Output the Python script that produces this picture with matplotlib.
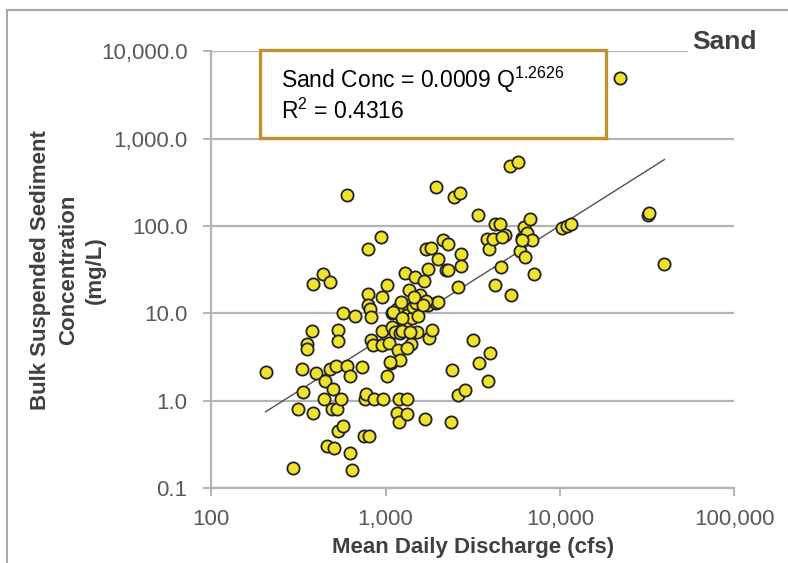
import matplotlib
matplotlib.use("Agg")
import matplotlib.pyplot as plt
from matplotlib.lines import Line2D
from matplotlib.patches import Rectangle
from matplotlib.ticker import FixedLocator, NullLocator

# mean daily discharge (cfs) and bulk sand concentration (mg/L)
discharge = [205, 295, 313, 330, 334, 353, 353, 380, 381, 385, 397, 439, 445, 451, 463,
             482, 482, 492, 502, 508, 518, 524, 532, 532, 535, 554, 569, 569, 604, 604,
             629, 629, 641, 671, 732, 747, 762, 768, 793, 793, 793, 803, 809, 820, 820,
             848, 859, 935, 955, 955, 955, 968, 1014, 1021, 1041, 1076, 1090, 1090, 1135, 1157,
             1164, 1180, 1188, 1196, 1212, 1220, 1212, 1294, 1321, 1330, 1294, 1330, 1365, 1422, 1435,
             1480, 1490, 1520, 1571, 1393, 1657, 1679, 1711, 1746, 1750, 1782, 1830, 1854, 1942, 1953,
             2010, 2010, 2144, 2232, 2293, 2369, 2417, 2466, 2584, 2617, 2671, 2706, 2706, 2853, 3153,
             3368, 3414, 3796, 3846, 3899, 3975, 4110, 4249, 4249, 4605, 4543, 4856, 5187, 5250, 5725,
             5919, 6043, 6205, 6330, 6460, 6763, 6900, 7080, 10270, 10970, 11500, 22000, 32100, 32300, 39700,
             1107, 1543, 1250, 1460, 1700, 1640, 2280, 1250, 1380, 4625, 6030, 1060, 1330]
sand_conc = [2.14, 0.171, 0.815, 2.33, 1.26, 4.47, 3.9, 6.3, 0.73, 21.7, 2.06, 28.5, 1.05, 1.70, 0.30,
             22.7, 2.33, 0.81, 1.35, 0.286, 2.47, 0.815, 6.46, 4.82, 0.454, 1.05, 0.508, 9.98, 226, 2.51,
             0.252, 1.93, 0.163, 9.34, 2.42, 0.394, 1.06, 1.2, 55.2, 16.8, 12.4, 0.40, 11.3, 9.17, 4.91,
             4.38, 1.06, 74.8, 15.3, 6.28, 4.38, 1.06, 21.3, 1.91, 4.6, 2.73, 10.1, 6.9, 6.1, 11.3,
             0.73, 3.8, 0.564, 1.06, 2.95, 13.6, 5.93, 29, 1.06, 0.708, 7.7, 9.5, 18.5, 8.9, 11.8,
             25.9, 13, 6.05, 16.2, 4.47, 23.6, 0.614, 54.7, 32.5, 12.6, 5.2, 56, 6.5, 281, 13,
             42.4, 13.4, 69.3, 31.3, 61.9, 0.574, 2.26, 215, 1.17, 19.9, 239, 48.4, 35.1, 1.31, 4.91,
             132, 2.73, 71.3, 1.67, 55.2, 3.53, 71, 21.3, 104, 34.1, 104, 79.8, 486, 16.2, 545,
             52.2, 73.3, 96.4, 44.4, 83.7, 120, 69.3, 28.2, 94.7, 100, 104, 4875, 134, 141, 36.8,
             10.5, 9.3, 8.8, 15.2, 14, 12.5, 31.0, 6.3, 6.2, 75, 69, 2.81, 4.0]

x_ticks = [100, 1000, 10000, 100000]
x_labels = ["100", "1,000", "10,000", "100,000"]
y_ticks = [0.1, 1, 10, 100, 1000, 10000]
y_labels = ["0.1", "1.0", "10.0", "100.0", "1,000.0", "10,000.0"]

# power-law fit shown on the chart, drawn over the range of the data
fit_coef, fit_exp = 0.0009, 1.2626
fit_x = [205, 39700]
fit_y = [fit_coef * q ** fit_exp for q in fit_x]

plt.rcParams["font.family"] = ["Liberation Sans", "DejaVu Sans"]
plt.rcParams["mathtext.fontset"] = "custom"
plt.rcParams["mathtext.rm"] = "Liberation Sans"

grid_col, text_col, label_col = "#B4B4B4", "#595959", "#404040"

fig = plt.figure(figsize=(7.88, 5.63), dpi=100)
ax = fig.add_axes([0.268, 0.133, 0.664, 0.776])
ax.set_xscale("log"); ax.set_yscale("log")
ax.set_xlim(100, 100000); ax.set_ylim(0.1, 10000)

ax.plot(fit_x, fit_y, color="#505050", lw=1.0, zorder=2)
ax.plot(discharge, sand_conc, "o", ms=8.8, mfc="#EEE22C", mec="#222222", mew=1.3, zorder=3, ls="none")

ax.xaxis.set_major_locator(FixedLocator(x_ticks)); ax.xaxis.set_minor_locator(NullLocator())
ax.yaxis.set_major_locator(FixedLocator(y_ticks)); ax.yaxis.set_minor_locator(NullLocator())
ax.set_xticklabels(x_labels); ax.set_yticklabels(y_labels)
ax.yaxis.grid(True, color=grid_col, lw=1.6); ax.set_axisbelow(True)
for side in ("top", "right"): ax.spines[side].set_visible(False)
for side in ("left", "bottom"): ax.spines[side].set_color(grid_col); ax.spines[side].set_linewidth(1.6)
ax.tick_params(axis="both", length=6, width=1.4, color=grid_col, labelsize=16, labelcolor=text_col)
ax.tick_params(axis="y", pad=11); ax.tick_params(axis="x", pad=9)

ax.set_ylabel("Bulk Suspended Sediment\nConcentration\n(mg/L)", fontsize=16, fontweight="bold",
              color=label_col, linespacing=1.4)
ax.yaxis.label.set_va("center"); ax.yaxis.set_label_coords(-0.273, 0.5)
ax.set_xlabel("Mean Daily Discharge (cfs)", fontsize=16, fontweight="bold", color=label_col)
ax.xaxis.label.set_va("center"); ax.xaxis.set_label_coords(0.5, -0.136)

fig.text(0.920, 0.925, "Sand", fontsize=19, fontweight="bold", color=label_col, ha="center", va="center",
         bbox=dict(facecolor="white", edgecolor="none", pad=3))

box = Rectangle((0.330, 0.755), 0.439, 0.156, transform=fig.transFigure, facecolor="white",
                edgecolor="#BF9230", lw=2.4, zorder=5)
fig.patches.append(box)
fig.text(0.357, 0.858, "Sand Conc = 0.0009 Q$^{\\mathregular{1.2626}}$", fontsize=16.5, va="center", zorder=6)
fig.text(0.357, 0.803, "R$^{\\mathregular{2}}$ = 0.4316", fontsize=16.5, va="center", zorder=6)

# light frame around the whole chart
fig.add_artist(Line2D([7 / 788, 1], [1 - 10 / 563] * 2, transform=fig.transFigure, color="#A8A8A8", lw=1.5))
fig.add_artist(Line2D([7 / 788] * 2, [0, 1 - 10 / 563], transform=fig.transFigure, color="#A8A8A8", lw=1.5))

fig.savefig("out.png", dpi=100, facecolor="white")
